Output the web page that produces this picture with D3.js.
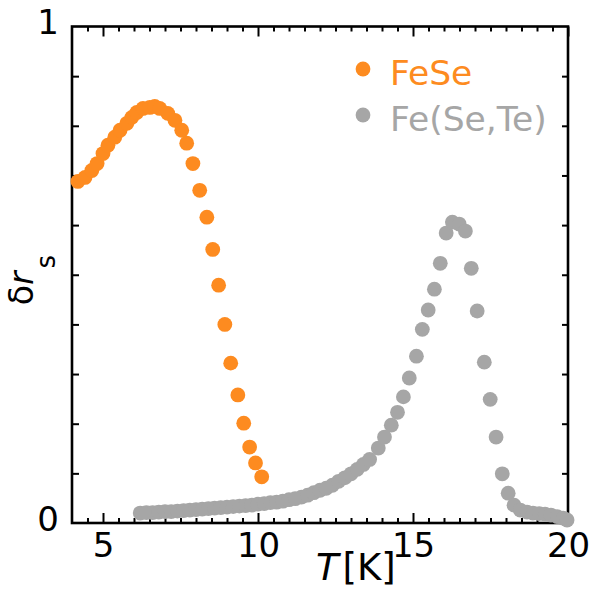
<!DOCTYPE html>
<html>
<head>
<meta charset="utf-8">
<script src="https://cdn.jsdelivr.net/npm/d3@7"></script>
<style>
  html, body { margin: 0; padding: 0; background: #fff; }
  svg { display: block; }
  text { font-family: 'DejaVu Sans', sans-serif; }
</style>
</head>
<body>
<svg id="chart" width="590" height="589"></svg>
<script>
// ---- data ----
const fese_T = [4.19, 4.42, 4.64, 4.81, 5.00, 5.16, 5.38, 5.55, 5.77, 5.93, 6.09, 6.29, 6.51, 6.67, 6.83, 7.09, 7.32, 7.54, 7.70, 7.90, 8.12, 8.35, 8.54, 8.73, 8.93, 9.12, 9.35, 9.54, 9.73, 9.92, 10.12];
const fese_r = [0.688, 0.696, 0.710, 0.724, 0.744, 0.761, 0.777, 0.791, 0.805, 0.817, 0.827, 0.835, 0.837, 0.839, 0.835, 0.825, 0.811, 0.791, 0.765, 0.724, 0.670, 0.616, 0.551, 0.479, 0.400, 0.322, 0.258, 0.201, 0.153, 0.121, 0.093];

const fst_T = [6.2, 6.4, 6.6, 6.8, 7.0, 7.2, 7.4, 7.6, 7.8, 8.0, 8.2, 8.4, 8.6, 8.8, 9.0, 9.2, 9.4, 9.6, 9.8, 10.0, 10.2, 10.4, 10.6, 10.8, 11.0, 11.2, 11.4, 11.6, 11.8, 12.0, 12.2, 12.4, 12.6, 12.8, 13.0, 13.2, 13.4, 13.6, 13.88, 14.08, 14.30, 14.50, 14.69, 14.88, 15.11, 15.30, 15.49, 15.69, 15.88, 16.07, 16.27, 16.49, 16.69, 16.88, 17.07, 17.30, 17.49, 17.68, 17.88, 18.07, 18.26, 18.46, 18.68, 18.87, 19.07, 19.26, 19.45, 19.65, 19.84, 19.97];
const fst_r = [0.020, 0.021, 0.021, 0.022, 0.023, 0.023, 0.024, 0.025, 0.026, 0.027, 0.028, 0.029, 0.030, 0.031, 0.032, 0.033, 0.034, 0.035, 0.036, 0.038, 0.039, 0.041, 0.042, 0.044, 0.047, 0.049, 0.052, 0.056, 0.061, 0.066, 0.070, 0.076, 0.084, 0.091, 0.099, 0.108, 0.118, 0.128, 0.151, 0.173, 0.197, 0.223, 0.254, 0.292, 0.336, 0.390, 0.429, 0.471, 0.523, 0.584, 0.606, 0.602, 0.588, 0.513, 0.427, 0.324, 0.249, 0.173, 0.099, 0.060, 0.036, 0.026, 0.022, 0.020, 0.019, 0.018, 0.016, 0.013, 0.010, 0.006];

const xMajorTicks = [5, 10, 15, 20];
const yLabelTicks = [0, 1];
const seriesNames = ["FeSe", "Fe(Se,Te)"];
const seriesColors = ["#FD8B20", "#A6A6A6"];

// ---- layout ----
const svg = d3.select("#chart");
const pLeft = 72, pRight = 568, pTop = 26.5, pBottom = 523;
const x = d3.scaleLinear().domain([4, 20]).range([pLeft, pRight]);
const y = d3.scaleLinear().domain([0, 1]).range([pBottom, pTop]);

const xMinor = d3.range(4.5, 20, 0.5).filter(v => Math.abs(v % 5) > 1e-6);
const yMinor = d3.range(1, 10).map(i => i / 10);

function styleAxis(g) {
  g.select(".domain").remove();
  g.selectAll(".tick line").attr("stroke", "#000").attr("stroke-width", 2);
}

// bottom axis: minor ticks
svg.append("g").attr("transform", `translate(0,${pBottom})`)
  .call(d3.axisBottom(x).tickValues(xMinor).tickSize(-5).tickFormat(""))
  .call(styleAxis);
// bottom axis: major ticks + labels
const xAx = svg.append("g").attr("transform", `translate(0,${pBottom})`)
  .call(d3.axisBottom(x).tickValues(xMajorTicks).tickSize(-10).tickPadding(0).tickFormat(d3.format("d")))
  .call(styleAxis);
xAx.selectAll(".tick text").attr("y", 34).attr("dy", null)
  .attr("font-size", 34).attr("fill", "#000");

// top axis
svg.append("g").attr("transform", `translate(0,${pTop})`)
  .call(d3.axisTop(x).tickValues(xMinor).tickSize(-5).tickFormat(""))
  .call(styleAxis);
svg.append("g").attr("transform", `translate(0,${pTop})`)
  .call(d3.axisTop(x).tickValues(xMajorTicks).tickSize(-10).tickFormat(""))
  .call(styleAxis);

// left axis
svg.append("g").attr("transform", `translate(${pLeft},0)`)
  .call(d3.axisLeft(y).tickValues(yMinor).tickSize(-7).tickFormat(""))
  .call(styleAxis);
const yAx = svg.append("g").attr("transform", `translate(${pLeft},0)`)
  .call(d3.axisLeft(y).tickValues(yLabelTicks).tickSize(0).tickPadding(13).tickFormat(d3.format("d")))
  .call(styleAxis);
yAx.selectAll(".tick text").attr("dy", null).attr("y", 7)
  .attr("font-size", 34).attr("fill", "#000");

// right axis
svg.append("g").attr("transform", `translate(${pRight},0)`)
  .call(d3.axisRight(y).tickValues(yMinor).tickSize(-6).tickFormat(""))
  .call(styleAxis);

// frame
svg.append("rect").attr("x", pLeft).attr("y", pTop)
  .attr("width", pRight - pLeft).attr("height", pBottom - pTop)
  .attr("fill", "none").attr("stroke", "#000").attr("stroke-width", 2.6);

// data
const rad = 7.4;
const fst = fst_T.map((t, i) => ({ t, v: fst_r[i] }));
const fese = fese_T.map((t, i) => ({ t, v: fese_r[i] }));
svg.append("g").selectAll("circle").data(fst).join("circle")
  .attr("cx", d => x(d.t)).attr("cy", d => y(d.v)).attr("r", rad)
  .attr("fill", seriesColors[1]);
svg.append("g").selectAll("circle").data(fese).join("circle")
  .attr("cx", d => x(d.t)).attr("cy", d => y(d.v)).attr("r", rad)
  .attr("fill", seriesColors[0]);

// legend
const leg = svg.append("g");
seriesNames.forEach((name, i) => {
  const yy = 69 + i * 46;
  leg.append("circle").attr("cx", 363).attr("cy", yy).attr("r", 7.4).attr("fill", seriesColors[i]);
  leg.append("text").attr("x", 390).attr("y", yy + 16).attr("font-size", 34.5)
    .attr("fill", seriesColors[i]).text(name);
});

// x label
const xl = svg.append("text").attr("x", 316).attr("y", 580).attr("font-size", 37).attr("fill", "#000");
xl.append("tspan").attr("font-style", "italic").text("T");
xl.append("tspan").attr("dx", 4).text("[K]");

// y label
const yl = svg.append("text").attr("transform", "translate(33,280) rotate(-90)")
  .attr("text-anchor", "middle").attr("fill", "#000");
yl.append("tspan").attr("font-size", 33).text("δ");
yl.append("tspan").attr("font-size", 33).attr("font-style", "italic").text("r");
yl.append("tspan").attr("font-size", 26).attr("dx", 3).attr("dy", 22).text("s");
</script>
</body>
</html>
